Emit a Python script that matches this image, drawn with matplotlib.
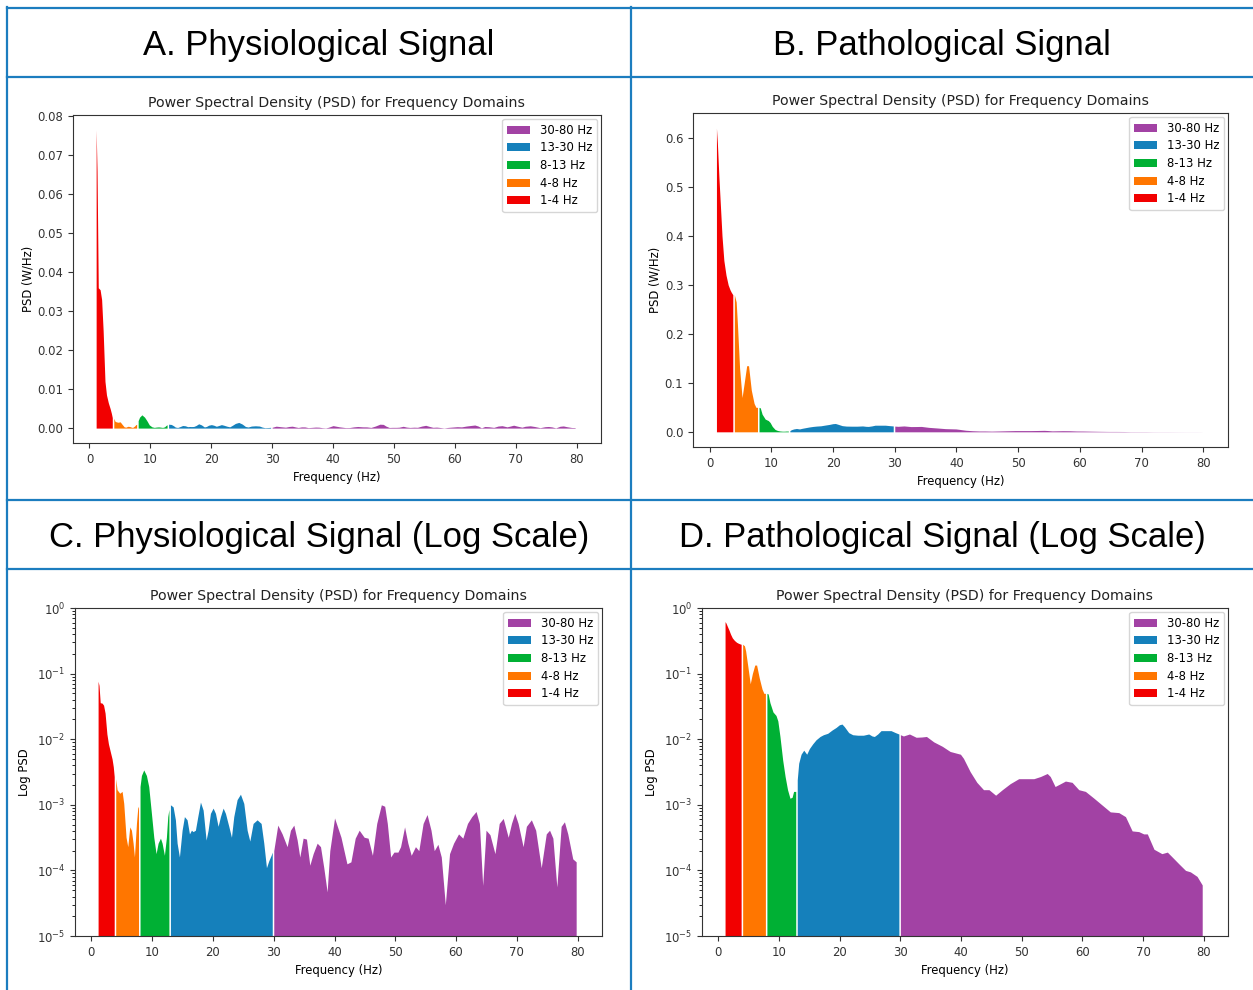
import matplotlib
matplotlib.use("Agg")
import numpy as np
import matplotlib.pyplot as plt
from matplotlib.lines import Line2D

# ── Data (frequency in Hz, PSD in W/Hz) ──────────────────────────────────────

phys_freq = [
    1.1, 1.25, 1.45, 1.75, 2.0, 2.25, 2.55, 2.8, 3.1, 3.4, 3.6, 3.75,
    4.0, 4.22, 4.66, 5.05, 5.32, 5.7, 5.98, 6.31, 6.58, 6.86, 7.08, 7.41, 7.62, 7.75,
    8.0, 8.23, 8.61, 9.05, 9.43, 9.82, 10.26, 10.64, 10.97, 11.36, 11.63, 12.01,
    12.34, 12.56, 12.75,
    13.0, 13.44, 13.82, 14.1, 14.48, 14.92, 15.3, 15.74, 16.13, 16.46, 16.73, 17.11,
    17.5, 17.94, 18.38, 18.87, 19.2, 19.58, 20.02, 20.41, 20.84, 21.23, 21.67, 22.05,
    22.6, 23.04, 23.42, 23.97, 24.52, 25.07, 25.62, 26.06, 26.6, 27.26, 27.92, 28.36,
    28.8, 29.18, 29.57, 29.75,
    30.0, 30.66, 31.38, 32.2, 32.75, 33.3, 33.85, 34.28, 34.83, 35.38, 35.93, 36.48,
    37.14, 37.69, 38.23, 38.78, 39.22, 40.0, 41.06, 42.04, 42.69, 43.4, 44.05, 44.87,
    45.52, 46.23, 46.94, 47.7, 48.25, 48.68, 49.23, 49.77, 50.43, 50.86, 51.52, 52.06,
    52.61, 53.31, 53.86, 54.57, 55.22, 55.87, 56.4, 57.0, 57.56, 58.22, 58.92, 59.58,
    60.4, 61.1, 61.87, 62.57, 63.28, 63.83, 64.37, 64.92, 65.57, 66.39, 67.09, 67.75,
    68.57, 69.11, 69.65, 70.2, 71.02, 71.56, 72.38, 73.09, 74.0, 74.83, 75.37, 75.92,
    76.57, 77.28, 77.82, 78.37, 79.19, 79.75,
]
phys_psd = [
    0.0765, 0.066, 0.036, 0.0355, 0.033, 0.025, 0.012, 0.0085, 0.0065, 0.005, 0.0038, 0.0027,
    0.0025, 0.0017, 0.0015, 0.0016, 0.00105, 0.00032, 0.00023, 0.00046, 0.00041, 0.00026,
    0.00016, 0.00052, 0.00089, 0.00095,
    0.0019, 0.0028, 0.0034, 0.0028, 0.0019, 0.00083, 0.00032, 0.00018, 0.00026, 0.00031,
    0.00026, 0.00017, 0.00032, 0.00066, 0.00085,
    0.0010, 0.00093, 0.00059, 0.00026, 0.00016, 0.00041, 0.00066, 0.00059, 0.00036, 0.00041,
    0.00039, 0.00041, 0.00066, 0.0011, 0.00083, 0.00029, 0.00041, 0.00074, 0.00089, 0.00074,
    0.00047, 0.00066, 0.00089, 0.00074, 0.00047, 0.00032, 0.00066, 0.0012, 0.00145, 0.00105,
    0.00041, 0.00028, 0.00052, 0.00059, 0.00052, 0.00026, 0.00011, 0.00014, 0.00017, 0.00019,
    0.0002, 0.00049, 0.00036, 0.00023, 0.00041, 0.00049, 0.00029, 0.00016, 0.00031, 0.0003,
    0.00012, 0.00018, 0.00026, 0.00023, 0.00011, 0.000047, 0.0002, 0.00063, 0.00032, 0.000126,
    0.000135, 0.00031, 0.00041, 0.00032, 0.00031, 0.00017, 0.00052, 0.0010, 0.00095, 0.00052,
    0.00016, 0.00019, 0.00019, 0.00023, 0.00046, 0.00026, 0.00017, 0.00023, 0.0002, 0.00052,
    0.00071, 0.00041, 0.0002, 0.00025, 0.00016, 0.00003, 0.00018, 0.00026, 0.00036, 0.00031,
    0.00052, 0.00066, 0.00079, 0.00052, 0.000059, 0.00041, 0.00035, 0.00018, 0.00052, 0.00062,
    0.00032, 0.00052, 0.00074, 0.00052, 0.00023, 0.00047, 0.00059, 0.00041, 0.00011, 0.00036,
    0.00041, 0.00031, 0.000056, 0.00047, 0.00055, 0.00036, 0.00015, 0.000135,
]

path_freq = [
    1.1, 1.25, 1.5, 1.75, 2.0, 2.3, 2.65, 3.0, 3.3, 3.5, 3.75,
    4.0, 4.3, 4.5, 4.85, 5.25, 5.6, 6.0, 6.3, 6.75, 7.2, 7.5, 7.75,
    8.0, 8.2, 8.5, 9.0, 9.5, 9.8, 10.15, 10.6, 11.0, 11.4, 11.8, 12.15, 12.4, 12.75,
    13.0, 13.24, 13.63, 14.07, 14.56, 15.0, 15.55, 16.1, 16.76, 17.31, 18.02, 18.74,
    19.4, 19.95, 20.38, 20.77, 21.48, 22.14, 22.97, 23.9, 24.78, 25.33, 25.71, 26.26,
    26.81, 27.64, 28.46, 29.18, 29.75,
    30.0, 30.5, 31.5, 32.6, 33.5, 34.3, 35.5, 36.9, 38.2, 39.9, 40.4, 41.5, 42.6, 43.7,
    44.6, 45.7, 46.8, 48.1, 49.5, 50.9, 52.0, 53.1, 54.2, 54.7, 55.5, 56.4, 57.2, 58.3,
    59.4, 60.5, 61.9, 63.2, 64.6, 66.0, 67.1, 68.2, 69.3, 70.1, 70.7, 71.8, 73.1, 74.0,
    74.8, 75.9, 77.0, 77.8, 78.9, 79.75,
]
path_psd = [
    0.62, 0.59, 0.52, 0.46, 0.40, 0.35, 0.32, 0.30, 0.29, 0.285, 0.28,
    0.28, 0.265, 0.22, 0.13, 0.07, 0.10, 0.135, 0.135, 0.085, 0.058, 0.05, 0.05,
    0.05, 0.049, 0.036, 0.026, 0.023, 0.019, 0.011, 0.0048, 0.0027, 0.0017, 0.00126,
    0.0013, 0.0016, 0.0016,
    0.0024, 0.0043, 0.0059, 0.0068, 0.0059, 0.0072, 0.0085, 0.0098, 0.011, 0.0117,
    0.0123, 0.0138, 0.0151, 0.0166, 0.017, 0.0155, 0.0126, 0.0117, 0.0115, 0.0115,
    0.012, 0.0112, 0.011, 0.012, 0.0135, 0.0135, 0.0135, 0.0126, 0.012,
    0.0117, 0.0112, 0.012, 0.0107, 0.0108, 0.011, 0.0091, 0.0078, 0.0065, 0.0059,
    0.0051, 0.0032, 0.0022, 0.0017, 0.0017, 0.0014, 0.0017, 0.0021, 0.0025, 0.0025,
    0.0025, 0.0027, 0.0030, 0.0027, 0.0019, 0.0021, 0.0023, 0.0022, 0.0017, 0.0016,
    0.00126, 0.0010, 0.00078, 0.00076, 0.00066, 0.0004, 0.00039, 0.00036, 0.00036,
    0.00021, 0.00018, 0.00019, 0.00016, 0.000126, 0.0001, 0.000095, 0.000081, 0.00006,
]

band_labels = ["1-4 Hz", "4-8 Hz", "8-13 Hz", "13-30 Hz", "30-80 Hz"]
band_edges = [(1, 4), (4, 8), (8, 13), (13, 30), (30, 81)]
band_colors = ["#f20000", "#ff7600", "#00b034", "#1580bb", "#a242a4"]

header_titles = ["A. Physiological Signal", "B. Pathological Signal",
                 "C. Physiological Signal (Log Scale)",
                 "D. Pathological Signal (Log Scale)"]

W, H = 1253, 990
GRID_COLOR = "#1c7dbf"
TXT = 8.4

fig = plt.figure(figsize=(W / 100, H / 100), dpi=100)
fig.patch.set_facecolor("white")


def px_axes(left, right, top, bottom):
    return fig.add_axes([left / W, 1 - bottom / H, (right - left) / W, (bottom - top) / H])


def draw_psd(ax, freq, psd, log=False):
    freq = np.asarray(freq)
    psd = np.asarray(psd)
    handles = []
    for (lo, hi), lab, col in zip(band_edges, band_labels, band_colors):
        m = (freq >= lo) & (freq < hi)
        base = 1e-7 if log else 0
        h = ax.fill_between(freq[m], psd[m], base, color=col, linewidth=0, label=lab)
        handles.append(h)
    if log:
        ax.set_yscale("log")
        ax.set_ylim(1e-5, 1)
        ax.set_ylabel("Log PSD", fontsize=TXT)
    else:
        ax.set_ylabel("PSD (W/Hz)", fontsize=TXT, labelpad=2)
    ax.set_xlim(-2.7, 84.0)
    ax.set_xticks(range(0, 81, 10))
    ax.set_xlabel("Frequency (Hz)", fontsize=TXT)
    ax.set_title("Power Spectral Density (PSD) for Frequency Domains", fontsize=10.2, color="#222222")
    ax.tick_params(labelsize=TXT, colors="#333333")
    for sp in ax.spines.values():
        sp.set_edgecolor("#333333")
    ax.legend(handles[::-1], band_labels[::-1], loc="upper right", fontsize=TXT,
              labelspacing=0.4, borderaxespad=0.35)


axA = px_axes(73, 601, 115, 443)
draw_psd(axA, phys_freq, phys_psd)
axB = px_axes(693, 1228, 113, 447)
draw_psd(axB, path_freq, path_psd)
axC = px_axes(75, 602, 608, 936)
draw_psd(axC, phys_freq, phys_psd, log=True)
axD = px_axes(702, 1228, 608, 936)
draw_psd(axD, path_freq, path_psd, log=True)


# table-like frame
def hline(y, x0=7, x1=W):
    fig.add_artist(Line2D([x0 / W, x1 / W], [1 - y / H, 1 - y / H], color=GRID_COLOR, lw=1.6))


def vline(x, y0=7, y1=H):
    fig.add_artist(Line2D([x / W, x / W], [1 - y0 / H, 1 - y1 / H], color=GRID_COLOR, lw=1.6))


for y in (8, 77, 500, 569):
    hline(y)
for x in (7, 631):
    vline(x)

for (cx, cy), t in zip([(319, 45), (942, 45), (319, 537), (942, 537)], header_titles):
    fig.text(cx / W, 1 - cy / H, t, ha="center", va="center",
             fontsize=24.9, family="Liberation Sans", color="black")

fig.savefig("out.png", dpi=100)
